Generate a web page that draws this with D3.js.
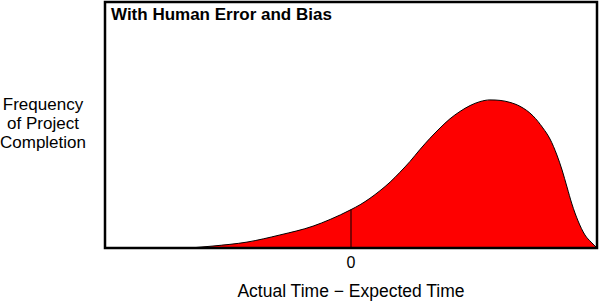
<!DOCTYPE html>
<html lang="en">

<head>
    <meta charset="utf-8">
    <script src="https://d3js.org/d3.v7.min.js"></script>
    <style>
        body {
            margin: 0;
            background: white;
        }

        text {
            font-family: "Liberation Sans", Arial, Helvetica, sans-serif;
            fill: black;
        }
    </style>
</head>

<body>
    <div id="chart"></div>

    <script>
        // curve: x = actual - expected time, y = frequency (arbitrary units)
        var timeDiff = [-6.54, -5.61, -4.23, -2.89, -1.54, -0.85, 0, 0.37, 0.77, 1.18, 1.59, 1.99, 2.40, 2.80, 3.21, 3.62, 4.02, 4.43, 4.84, 5.24, 5.65, 6.06, 6.46, 6.87, 7.40, 7.80, 8.09, 8.37, 8.58, 8.78, 8.98, 9.23, 9.51, 9.76, 10];
        var frequency = [0, 0.8, 2.4, 5.3, 8.9, 11.6, 15.6, 17.6, 20.2, 23.3, 26.8, 30.8, 35.2, 40.0, 44.6, 48.8, 52.5, 55.5, 57.9, 59.5, 60.2, 60.0, 59.2, 57.6, 53.7, 48.8, 44.3, 37.8, 31.7, 24.8, 17.9, 11.0, 5.3, 2.4, 0];
        var xTicks = [0];
        var title = "With Human Error and Bias";
        var yLabel = ["Frequency", "of Project", "Completion"];
        var xLabel = "Actual Time \u2212 Expected Time";

        var data = timeDiff.map(function (t, i) { return { t: t, f: frequency[i] }; });

        var W = 600, H = 302;
        var margin = { top: 2, right: 3, bottom: 54, left: 105 },
            width = W - margin.left - margin.right,
            height = H - margin.top - margin.bottom;

        var svg = d3.select("#chart")
            .append("svg")
            .attr("width", W)
            .attr("height", H);

        var g = svg.append("g")
            .attr("transform", "translate(" + margin.left + "," + margin.top + ")");

        var x = d3.scaleLinear()
            .domain([-10, 10])
            .range([0, width]);

        var y = d3.scaleLinear()
            .domain([0, 100])
            .range([height, 0]);

        // filled distribution
        g.append("path")
            .datum(data)
            .attr("fill", "#fe0000")
            .attr("stroke", "black")
            .attr("stroke-width", 1)
            .attr("d", d3.area()
                .x(function (d) { return x(d.t); })
                .y0(y(0))
                .y1(function (d) { return y(d.f); })
                .curve(d3.curveMonotoneX));

        // vertical line at zero, up to the curve
        var zeroVal = frequency[timeDiff.indexOf(0)];
        g.append("line")
            .attr("x1", x(0)).attr("x2", x(0))
            .attr("y1", y(0)).attr("y2", y(zeroVal))
            .attr("stroke", "black")
            .attr("stroke-width", 1);

        // frame
        g.append("rect")
            .attr("x", 0)
            .attr("y", 0)
            .attr("width", width)
            .attr("height", height)
            .attr("fill", "none")
            .attr("stroke", "black")
            .attr("stroke-width", 2.5);

        g.append("text")
            .attr("x", 6)
            .attr("y", 18)
            .style("font-size", "17px")
            .style("font-weight", "bold")
            .text(title);

        // x tick labels
        g.selectAll(".tick-label")
            .data(xTicks)
            .enter()
            .append("text")
            .attr("class", "tick-label")
            .attr("x", function (d) { return x(d); })
            .attr("y", height + 20)
            .attr("text-anchor", "middle")
            .style("font-size", "16px")
            .text(function (d) { return d; });

        g.append("text")
            .attr("x", x(0))
            .attr("y", height + 49)
            .attr("text-anchor", "middle")
            .style("font-size", "17.5px")
            .text(xLabel);

        svg.append("g")
            .selectAll("text")
            .data(yLabel)
            .enter()
            .append("text")
            .attr("x", 43)
            .attr("y", function (d, i) { return 110 + i * 19; })
            .attr("text-anchor", "middle")
            .style("font-size", "17px")
            .text(function (d) { return d; });
    </script>
</body>

</html>
